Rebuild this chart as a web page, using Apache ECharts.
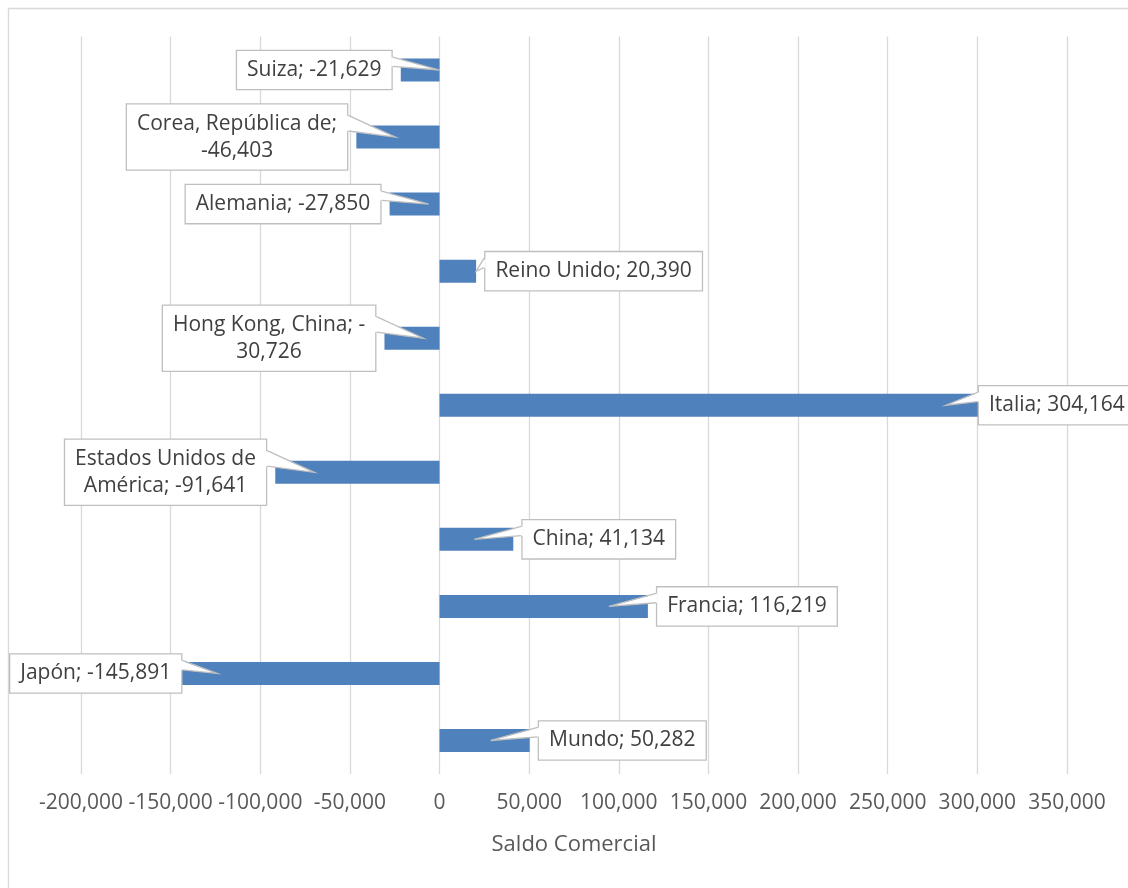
<!DOCTYPE html>
<html>
<head>
<meta charset="utf-8">
<title>Saldo Comercial</title>
<script src="https://cdn.jsdelivr.net/npm/echarts@6/dist/echarts.min.js"></script>
<style>
  html, body { margin: 0; padding: 0; background: #fff; }
  #main { width: 1128px; height: 888px; }
</style>
</head>
<body>
<div id="main"></div>
<script>
// datos (de arriba hacia abajo)
const paises = ['Suiza', 'Corea, República de', 'Alemania', 'Reino Unido', 'Hong Kong, China', 'Italia',
  'Estados Unidos de América', 'China', 'Francia', 'Japón', 'Mundo'];
const saldo = [-21629, -46403, -27850, 20390, -30726, 304164, -91641, 41134, 116219, -145891, 50282];
const ejeMin = -200000;
const ejeMax = 350000;
const ejePaso = 50000;
const ejeTitulo = 'Saldo Comercial';

const FONT = '"Open Sans", "DejaVu Sans", sans-serif';
const LABEL_SIZE = 21;
const WRAP_W = 212;     // ancho max de linea en las etiquetas
const GAP = 8;          // separacion etiqueta - fin de barra
const TAIL_DEPTH = 39;  // cuanto entra la punta del globo en la barra

const chart = echarts.init(document.getElementById('main'));

const ctx = document.createElement('canvas').getContext('2d');
ctx.font = LABEL_SIZE + 'px "Open Sans"';

function fmt(v) {
  return v.toLocaleString('en-US');
}

// corta como excel: en espacios y despues de guiones
function wrap(text) {
  const parts = text.split(/(?<=[ -])/);
  const lines = [];
  let line = '';
  parts.forEach(p => {
    if (line && ctx.measureText((line + p).trimEnd()).width > WRAP_W) {
      lines.push(line.trimEnd());
      line = p;
    } else {
      line += p;
    }
  });
  lines.push(line.trimEnd());
  return lines.join('\n');
}

// cajas de las etiquetas, se llenan en labelLayout
const boxes = {};
const LIMIT_L = 9, LIMIT_R = 1136;

function labelLayout(p) {
  const r = p.rect;
  const left = Math.min(r.x, r.x + r.width);
  const right = Math.max(r.x, r.x + r.width);
  const cy = r.y + r.height / 2;
  const w = p.labelRect.width, h = p.labelRect.height;
  const neg = saldo[p.dataIndex] < 0;
  let bx = neg ? left - GAP - w : right + GAP;
  if (bx < LIMIT_L) bx = LIMIT_L;
  if (bx + w > LIMIT_R) bx = LIMIT_R - w;
  boxes[p.dataIndex] = { x: bx, y: cy - h / 2, width: w, height: h };
  return { x: bx + w / 2, y: cy, align: 'center', verticalAlign: 'middle' };
}

function renderTail(params, api) {
  const box = boxes[params.dataIndex];
  if (!box) return null;
  const v = api.value(0);
  const cat = api.value(1);
  const end = api.coord([v, cat]);
  const zero = api.coord([0, cat]);
  const neg = v < 0;
  const dir = neg ? 1 : -1;
  const edge = neg ? box.x + box.width : box.x;
  const len = Math.abs(end[0] - zero[0]);
  let tipX;
  if (len >= TAIL_DEPTH - 1) tipX = end[0] + dir * Math.min(TAIL_DEPTH, len);
  else tipX = end[0];
  const tip = [tipX, end[1]];
  const yA = box.y + box.height * 0.18;
  const yB = box.y + box.height * 0.41;
  return {
    type: 'group',
    children: [
      {
        type: 'polygon',
        shape: { points: [[edge - dir * 1.5, yA], tip, [edge - dir * 1.5, yB]] },
        style: { fill: '#fff' }
      },
      {
        type: 'polyline',
        shape: { points: [[edge, yA], tip, [edge, yB]] },
        style: { fill: null, stroke: '#bfbfbf', lineWidth: 1.3 }
      }
    ]
  };
}

const option = {
  animation: false,
  backgroundColor: '#fff',
  textStyle: { fontFamily: FONT },
  graphic: [{
    type: 'rect',
    shape: { x: 8.5, y: 8.5, width: 1135, height: 900 },
    style: { fill: null, stroke: '#d9d9d9', lineWidth: 1.3 },
    silent: true,
    z: -1
  }],
  grid: {
    left: 81,
    right: 61,
    top: 36.5,
    bottom: 114,
    outerBoundsMode: 'none'
  },
  xAxis: {
    type: 'value',
    min: ejeMin,
    max: ejeMax,
    interval: ejePaso,
    name: ejeTitulo,
    nameLocation: 'middle',
    nameGap: 60,
    nameTextStyle: { fontFamily: FONT, fontSize: 22, color: '#595959' },
    axisLine: { show: false },
    axisTick: { show: false },
    axisLabel: {
      fontFamily: FONT,
      fontSize: 21,
      color: '#595959',
      margin: 19,
      formatter: v => fmt(v)
    },
    splitLine: { show: true, lineStyle: { color: '#d9d9d9', width: 1.3 } }
  },
  yAxis: {
    type: 'category',
    data: paises,
    inverse: true,
    axisLine: { show: false },
    axisTick: { show: false },
    axisLabel: { show: false },
    splitLine: { show: false }
  },
  series: [
    {
      id: 'barras',
      type: 'bar',
      data: saldo,
      barWidth: 23,
      itemStyle: { color: '#4f81bd' },
      label: {
        show: true,
        position: 'right',
        formatter: p => wrap(p.name + '; ' + fmt(p.value)),
        fontFamily: FONT,
        fontSize: LABEL_SIZE,
        lineHeight: 27,
        color: '#404040',
        backgroundColor: '#fff',
        borderColor: '#bfbfbf',
        borderWidth: 1.3,
        padding: [5.5, 10]
      },
      labelLayout: labelLayout
    },
    {
      id: 'colas',
      type: 'custom',
      z: 10,
      silent: true,
      encode: { x: 0, y: 1 },
      data: saldo.map((v, i) => [v, i]),
      renderItem: renderTail
    }
  ]
};

chart.setOption(option);
// segunda pasada: ya se conocen las cajas de las etiquetas
chart.setOption(option, true);
</script>
</body>
</html>
